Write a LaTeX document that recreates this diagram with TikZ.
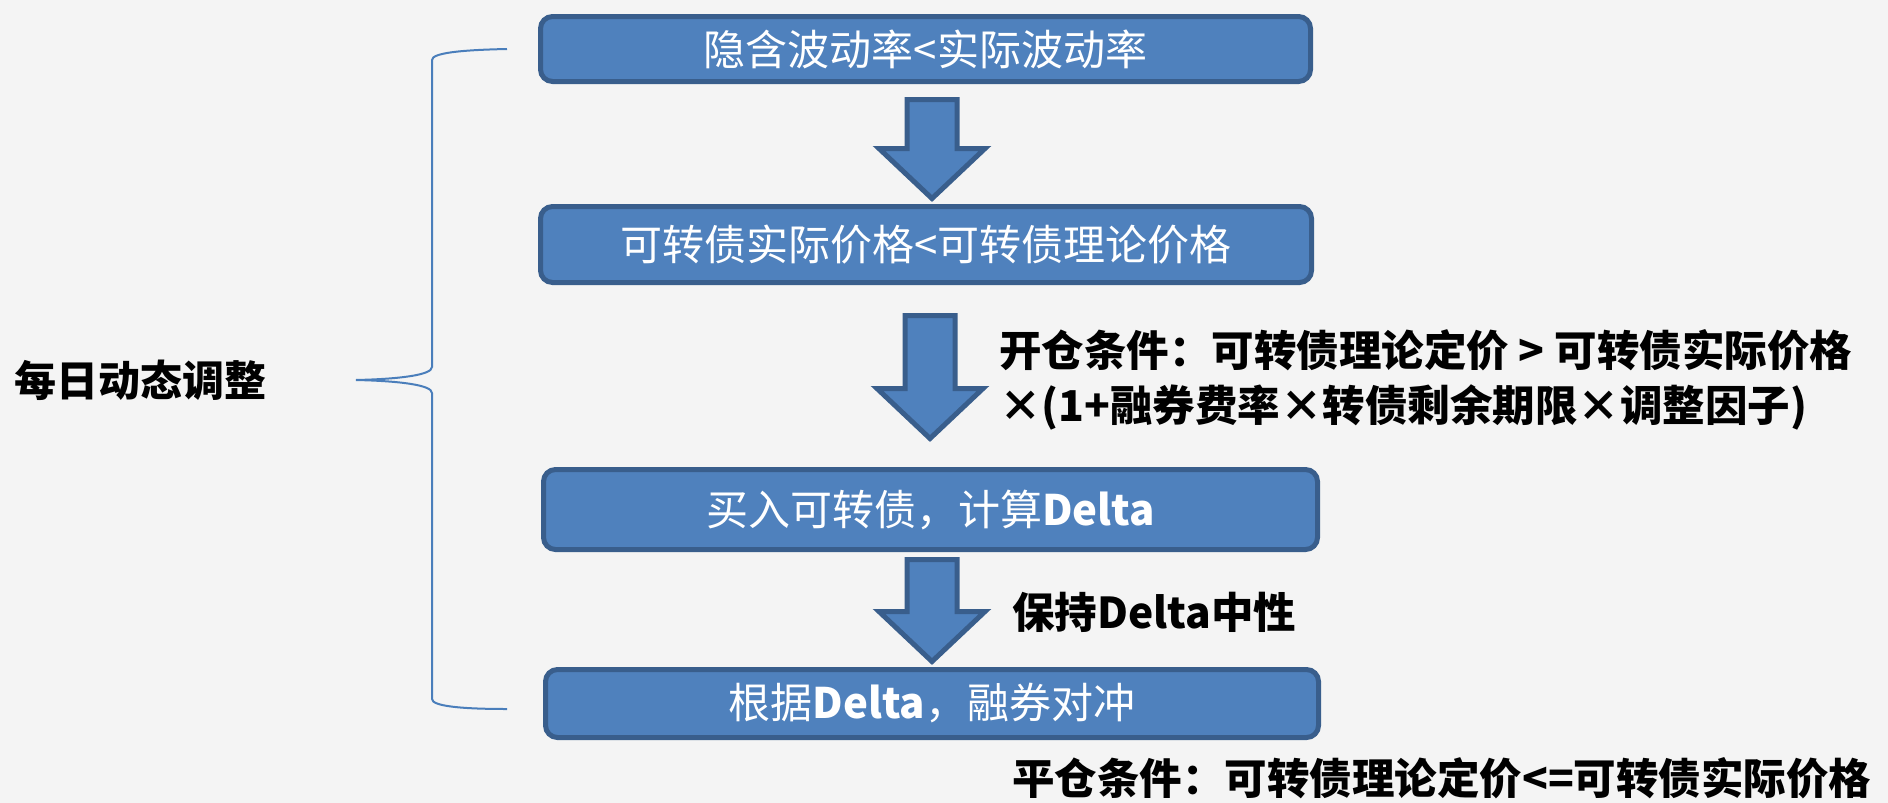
\documentclass[tikz,border=0pt]{standalone}
\usepackage{fontspec}
\setmainfont{Noto Sans CJK SC}
\usetikzlibrary{calc}
\definecolor{boxfill}{HTML}{4F81BD}
\definecolor{boxline}{HTML}{395E8C}
\definecolor{bracecol}{HTML}{4A7EBB}
\definecolor{bgcol}{HTML}{F4F4F4}
\newcommand\blockarrow[2]{%
  \path[arr] let \p1=(#1), \p2=(#2) in
    ({\x1-25pt},\y1) -- ({\x1+25pt},\y1) -- ({\x1+25pt},{\y2+50pt}) --
    ({\x1+53pt},{\y2+50pt}) -- (\x1,\y2) -- ({\x1-53pt},{\y2+50pt}) --
    ({\x1-25pt},{\y2+50pt}) -- cycle;}
\begin{document}
\begin{tikzpicture}[x=1pt,y=-1pt,
  box/.style={draw=boxline, fill=boxfill, line width=5pt, rounded corners=12pt,
    inner sep=0pt, outer sep=0pt, text=white, font=\fontsize{42}{50}\selectfont},
  arr/.style={draw=boxline, fill=boxfill, line width=5pt, line join=miter},
  lbl/.style={font=\bfseries\fontsize{42.5}{55}\selectfont, text=black,
    inner sep=0pt, anchor=west, align=left},
  brace/.style={draw=bracecol, line width=2pt}]
\fill[bgcol] (0,0) rectangle (1888,803);
\useasboundingbox (0,0) rectangle (1888,803);

\node[box, minimum width=770, minimum height=65] (b1) at (925.5,49) {隐含波动率<实际波动率};
\node[box, minimum width=771, minimum height=76] (b2) at (926,244.5) {可转债实际价格<可转债理论价格};
\node[box, minimum width=774, minimum height=80] (b3) at (930.5,509.5) {买入可转债，计算\textbf{Delta}};
\node[box, minimum width=773, minimum height=68] (b4) at (932,703.5) {根据\textbf{Delta}，融券对冲};

\coordinate (a1s) at (932,99.5);  \coordinate (a1e) at (932,198.5);
\coordinate (a2s) at (930,315.5); \coordinate (a2e) at (930,438.5);
\coordinate (a3s) at (932,559.5); \coordinate (a3e) at (932,661.5);
\blockarrow{a1s}{a1e}
\blockarrow{a2s}{a2e}
\blockarrow{a3s}{a3e}

\node[lbl] (open) at (999,380) {开仓条件：可转债理论定价 > 可转债实际价格\\×(1+融券费率×转债剩余期限×调整因子)};
\node[lbl] (keep) at (1012,612) {保持Delta中性};
\node[lbl] (close) at (1012,778) {平仓条件：可转债理论定价<=可转债实际价格};

\node[lbl, font=\bfseries\fontsize{42}{50}\selectfont] (daily) at (14,380) {每日动态调整};

\coordinate (bt) at (507,49);
\coordinate (bb) at (507,709);
\coordinate (tip) at (356,380);
\draw[brace] (bt) .. controls (460,50) and (432,53) .. (432,60) -- (432,367)
  .. controls (432,375) and (400,379) .. (tip)
  .. controls (400,381) and (432,385) .. (432,393) -- (432,699)
  .. controls (432,706) and (460,709) .. (bb);
\end{tikzpicture}
\end{document}
